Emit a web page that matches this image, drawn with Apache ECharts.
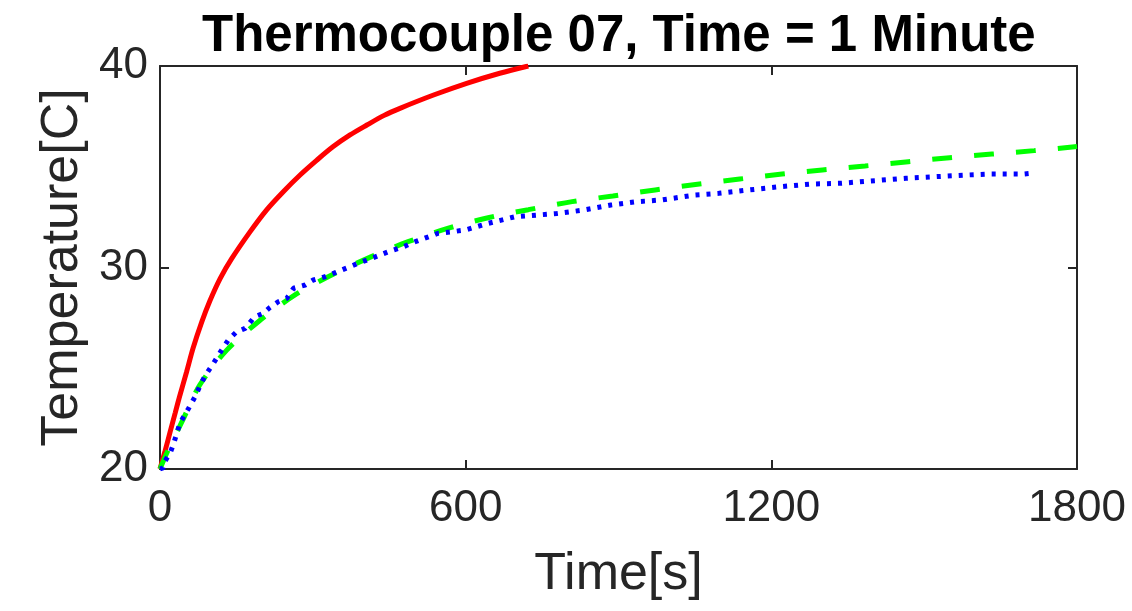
<!DOCTYPE html>
<html>
<head>
<meta charset="utf-8">
<script src="https://cdn.jsdelivr.net/npm/echarts@6/dist/echarts.min.js"></script>
<style>
    html, body { margin: 0; padding: 0; background: #fff; }
    #chart_con { width: 1132px; height: 611px; }
</style>
</head>
<body>
<div id="chart_con"></div>
<script>
// model curve (red)
var redTime = [0, 10, 20, 30, 39, 52, 65, 82, 98, 118, 141, 177, 209, 242, 275, 308, 340, 373, 406, 440, 471, 537, 602, 667, 723];
var redTemp = [20, 20.9, 21.85, 22.8, 23.65, 24.8, 26.0, 27.3, 28.35, 29.45, 30.45, 31.78, 32.85, 33.76, 34.59, 35.33, 36.0, 36.58, 37.07, 37.55, 37.9, 38.56, 39.14, 39.64, 40.0];

// fitted curve (green dashed)
var greenTime = [0, 16, 46, 78, 131, 193, 265, 330, 415, 487, 566, 644, 723, 809, 889, 972, 1055, 1138, 1221, 1300, 1384, 1469, 1550, 1633, 1716, 1800];
var greenTemp = [20, 20.94, 22.5, 24.17, 25.9, 27.31, 28.64, 29.54, 30.54, 31.28, 31.95, 32.47, 32.87, 33.27, 33.55, 33.85, 34.13, 34.39, 34.64, 34.84, 35.04, 35.25, 35.45, 35.63, 35.8, 36.0];

// measured thermocouple (blue dotted)
var blueTime = [0, 6, 10, 20, 26, 39, 56, 69, 78, 88, 105, 121, 134, 150, 167, 186, 203, 216, 232, 249, 262, 285, 301, 324, 357, 389, 420, 448, 475, 501, 546, 575, 599, 644, 697, 740, 779, 832, 885, 938, 984, 1051, 1097, 1157, 1217, 1277, 1337, 1403, 1464, 1517, 1583, 1630, 1697, 1705];
var blueTemp = [20.0, 20.05, 20.4, 20.8, 21.2, 22.27, 23.0, 23.6, 24.1, 24.6, 25.25, 25.9, 26.4, 26.8, 26.98, 27.56, 27.73, 28.02, 28.3, 28.47, 28.97, 29.13, 29.38, 29.54, 29.88, 30.21, 30.5, 30.78, 31.0, 31.28, 31.7, 31.78, 31.86, 32.19, 32.52, 32.6, 32.68, 32.85, 33.1, 33.27, 33.35, 33.6, 33.68, 33.85, 34.01, 34.14, 34.18, 34.31, 34.43, 34.5, 34.59, 34.64, 34.64, 34.66];

var xTicks = [0, 600, 1200, 1800];
var yTicks = [20, 30, 40];

function pairs(xs, ys) {
    var out = [];
    for (var i = 0; i < xs.length; i++) out.push([xs[i], ys[i]]);
    return out;
}

var axisColor = '#262626';
var fontName = '"Liberation Sans", Arial, sans-serif';

var chart = echarts.init(document.getElementById('chart_con'));
chart.setOption({
    animation: false,
    backgroundColor: '#fff',
    title: {
        text: 'Thermocouple 07, Time = 1 Minute',
        left: 197,
        top: 6,
        textStyle: { fontFamily: fontName, fontSize: 51, fontWeight: 'bold', color: '#000' }
    },
    grid: { left: 160, right: 55, top: 66, bottom: 142, containLabel: false },
    xAxis: [
        {
            type: 'value', min: xTicks[0], max: xTicks[xTicks.length - 1], interval: 600,
            name: 'Time[s]', nameLocation: 'middle', nameGap: 80,
            nameTextStyle: { fontFamily: fontName, fontSize: 52, color: axisColor },
            axisLine: { show: true, onZero: false, lineStyle: { color: axisColor, width: 2 } },
            axisTick: { show: true, inside: true, length: 9, lineStyle: { color: axisColor, width: 2 } },
            axisLabel: {
                fontFamily: fontName, fontSize: 44, color: axisColor, margin: 18,
                formatter: function (v) { return String(v); }
            },
            splitLine: { show: false }
        },
        {
            type: 'value', position: 'top', min: 0, max: 1800, interval: 600,
            axisLine: { show: true, onZero: false, lineStyle: { color: axisColor, width: 2 } },
            axisTick: { show: true, inside: true, length: 9, lineStyle: { color: axisColor, width: 2 } },
            axisLabel: { show: false },
            splitLine: { show: false }
        }
    ],
    yAxis: [
        {
            type: 'value', min: yTicks[0], max: yTicks[yTicks.length - 1], interval: 10,
            name: 'Temperature[C]', nameLocation: 'middle', nameGap: 70,
            nameTextStyle: { fontFamily: fontName, fontSize: 52, color: axisColor },
            axisLine: { show: true, onZero: false, lineStyle: { color: axisColor, width: 2 } },
            axisTick: { show: true, inside: true, length: 9, lineStyle: { color: axisColor, width: 2 } },
            axisLabel: { fontFamily: fontName, fontSize: 44, color: axisColor, margin: 12 },
            splitLine: { show: false }
        },
        {
            type: 'value', position: 'right', min: 20, max: 40, interval: 10,
            axisLine: { show: true, onZero: false, lineStyle: { color: axisColor, width: 2 } },
            axisTick: { show: true, inside: true, length: 9, lineStyle: { color: axisColor, width: 2 } },
            axisLabel: { show: false },
            splitLine: { show: false }
        }
    ],
    series: [
        {
            name: 'model', type: 'line', showSymbol: false, smooth: 0.3, clip: true,
            data: pairs(redTime, redTemp),
            lineStyle: { color: '#ff0000', width: 5 }
        },
        {
            name: 'fit', type: 'line', showSymbol: false, smooth: 0.3, clip: true,
            data: pairs(greenTime, greenTemp),
            lineStyle: { color: '#00ff00', width: 5, type: [20, 22] }
        },
        {
            name: 'measured', type: 'line', showSymbol: false, clip: true,
            data: pairs(blueTime, blueTemp),
            lineStyle: { color: '#0000ff', width: 5, type: [4, 7] }
        }
    ]
});
window.addEventListener('resize', function () {
    chart.resize();
});
</script>
</body>
</html>
